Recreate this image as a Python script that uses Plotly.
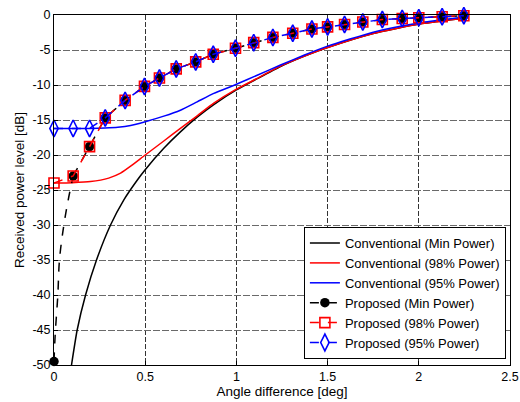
import plotly.graph_objects as go

# Conventional curves (solid lines)
conv_min_x = [0.096, 0.127, 0.173, 0.233, 0.31, 0.383, 0.456, 0.5, 0.602, 0.693, 0.785, 0.876, 1.0,
              1.114, 1.242, 1.37, 1.5, 1.75, 2.0, 2.14, 2.25]
conv_min_y = [-50, -45, -40, -35, -30, -26.4, -23.6, -22.1, -19.05, -16.7, -14.6, -12.8, -10.7,
              -9.1, -7.35, -5.9, -4.65, -2.65, -1.3, -0.8, -0.45]

conv_98_x = [0, 0.1, 0.2, 0.3, 0.365, 0.42, 0.5, 0.602, 0.693, 0.785, 0.876, 1.0,
             1.114, 1.242, 1.37, 1.5, 1.75, 2.0, 2.14, 2.25]
conv_98_y = [-24.0, -23.95, -23.8, -23.3, -22.6, -21.6, -20.0, -18.0, -16.2, -14.4, -12.6, -10.6,
             -9.05, -7.3, -5.9, -4.65, -2.65, -1.3, -0.8, -0.45]

conv_95_x = [0, 0.1, 0.2, 0.28, 0.35, 0.42, 0.5, 0.602, 0.693, 0.785, 0.876, 1.0,
             1.114, 1.242, 1.37, 1.5, 1.75, 2.0, 2.14, 2.25]
conv_95_y = [-16.2, -16.2, -16.2, -16.15, -16.05, -15.8, -15.25, -14.45, -13.6, -12.4, -11.2, -9.9,
             -8.6, -7.14, -5.75, -4.45, -2.45, -1.15, -0.65, -0.3]

# Proposed (marker points)
prop_x = [0, 0.105, 0.195, 0.281, 0.39, 0.496, 0.578, 0.67, 0.777, 0.873, 0.995, 1.095, 1.2,
          1.309, 1.414, 1.5, 1.593, 1.693, 1.8, 1.909, 2.0, 2.128, 2.247]
prop_common_y = [-14.7, -12.2, -10.2, -9.0, -7.7, -6.7, -5.6, -4.75, -3.95, -3.2,
                 -2.6, -2.0, -1.7, -1.35, -1.0, -0.65, -0.5, -0.4, -0.25, -0.1]
prop_min_y = [-49.5, -23.0, -18.8] + prop_common_y
prop_98_y = [-24.0, -23.0, -18.8] + prop_common_y
prop_95_y = [-16.2, -16.2, -16.2] + prop_common_y

# dashed approach of the min-power proposed curve between the first two samples
prop_min_curve_x = [0, 0.003, 0.008, 0.021, 0.03, 0.054, 0.078, 0.105]
prop_min_curve_y = [-49.5, -47.5, -45, -40, -35, -30, -26.4, -23.0]

x_ticks = [0, 0.5, 1, 1.5, 2, 2.5]
x_ticktext = ["0", "0.5", "1", "1.5", "2", "2.5"]
y_ticks = [0, -5, -10, -15, -20, -25, -30, -35, -40, -45, -50]
y_ticktext = ["0", "-5", "-10", "-15", "-20", "-25", "-30", "-35", "-40", "-45", "-50"]

fig = go.Figure()

CONV = [
    ("Conventional (Min Power)", conv_min_x, conv_min_y, "black"),
    ("Conventional (98% Power)", conv_98_x, conv_98_y, "#ff0000"),
    ("Conventional (95% Power)", conv_95_x, conv_95_y, "#0000ff"),
]
for rank, (name, xs, ys, color) in enumerate(CONV):
    fig.add_trace(go.Scatter(
        x=xs, y=ys, mode="lines", name=name, legendrank=rank + 1,
        line=dict(color=color, width=1.5, shape="spline", smoothing=0.5),
    ))

PROP = [
    ("Proposed (Min Power)", prop_min_y, "black",
     dict(symbol="circle", size=9.5, color="black", line=dict(width=0))),
    ("Proposed (98% Power)", prop_98_y, "#ff0000",
     dict(symbol="square-open", size=10, color="#ff0000", line=dict(width=1.6))),
    ("Proposed (95% Power)", prop_95_y, "#0000ff",
     dict(symbol="diamond-tall-open", size=12, color="#0000ff", line=dict(width=1.6))),
]
for rank, (name, ys, color, marker) in enumerate(PROP):
    if color == "black":
        fig.add_trace(go.Scatter(
            x=prop_min_curve_x, y=prop_min_curve_y, mode="lines", showlegend=False,
            line=dict(color=color, width=1.5, dash="dash", shape="spline"),
            hoverinfo="skip",
        ))
        lx, ly = prop_x[1:], ys[1:]
    else:
        lx, ly = prop_x, ys
    fig.add_trace(go.Scatter(
        x=lx, y=ly, mode="lines", showlegend=False,
        line=dict(color=color, width=1.5, dash="dash"),
    ))
    fig.add_trace(go.Scatter(
        x=prop_x, y=ys, mode="markers", showlegend=False, marker=marker,
        cliponaxis=False,
    ))
    fig.add_trace(go.Scatter(
        x=[None], y=[None], mode="lines+markers", name=name, legendrank=rank + 4,
        line=dict(color=color, width=1.5, dash="dash"), marker=marker,
    ))

axis_common = dict(
    showline=True, mirror=True, linecolor="black", linewidth=1,
    showgrid=True, gridwidth=1,
    zeroline=False, ticks="inside", ticklen=4, tickcolor="black",
    tickfont=dict(size=12.5, color="black"), automargin=False,
    ticklabeloverflow="allow",
)

fig.update_layout(
    width=520, height=402,
    plot_bgcolor="white", paper_bgcolor="white",
    font=dict(family="Liberation Sans, Arial", size=13, color="black"),
    margin=dict(l=54, r=10, t=15, b=37),
    xaxis=dict(range=[0, 2.5], tickvals=x_ticks, ticktext=x_ticktext,
               gridcolor="#333333", griddash="5px,2px",
               title=dict(text="Angle difference [deg]", standoff=2, font=dict(size=13.5)),
               **axis_common),
    yaxis=dict(range=[-50, 0], tickvals=y_ticks, ticktext=y_ticktext,
               gridcolor="#6a6a6a", griddash="7px,2px",
               title=dict(text="Received power level [dB]", standoff=4, font=dict(size=13.5)),
               **axis_common),
    legend=dict(
        x=0.991, y=0.017, xanchor="right", yanchor="bottom",
        bgcolor="white", bordercolor="black", borderwidth=1,
        font=dict(size=13), tracegroupgap=0, itemwidth=30,
    ),
    showlegend=True,
)

# drop the default page margin so the figure fills the window exactly
fig.write_html(
    "out.html",
    config={"displayModeBar": False},
    post_script="document.body.style.margin='0';document.body.style.overflow='hidden';",
)
